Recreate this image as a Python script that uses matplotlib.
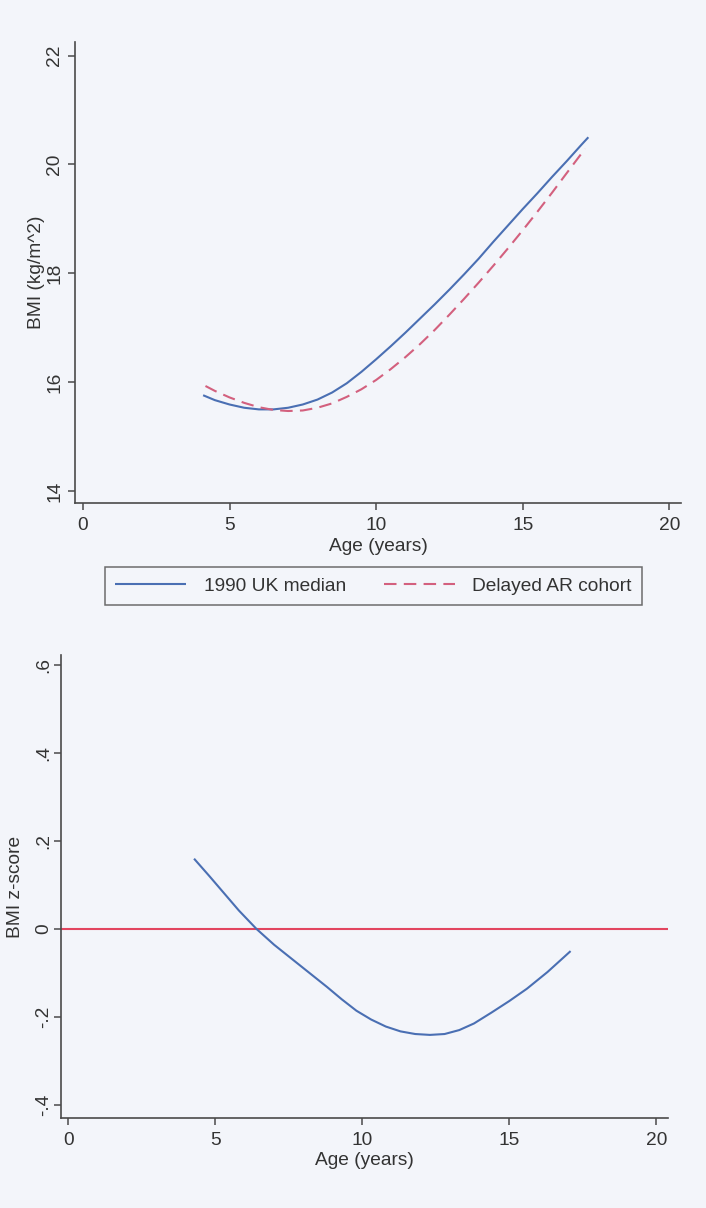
import matplotlib
matplotlib.use("Agg")
import matplotlib.pyplot as plt

plt.rcParams['font.family'] = ['Liberation Sans', 'DejaVu Sans']

# ---- data: top panel (BMI) ----
uk_age = [4.1, 4.5, 5.0, 5.5, 6.0, 6.5, 7.0, 7.5, 8.0, 8.5, 9.0, 9.5, 10.0, 10.5,
          11.0, 11.5, 12.0, 12.5, 13.0, 13.5, 14.0, 14.5, 15.0, 15.5, 16.0, 16.5, 17.0, 17.24]
uk_bmi = [15.76, 15.67, 15.59, 15.53, 15.50, 15.50, 15.53, 15.59, 15.68, 15.81, 15.98, 16.19,
          16.42, 16.66, 16.91, 17.17, 17.43, 17.70, 17.98, 18.27, 18.58, 18.88, 19.18, 19.47,
          19.77, 20.06, 20.36, 20.50]
ar_age = [4.18, 4.5, 5.0, 5.5, 6.0, 6.5, 7.0, 7.5, 8.0, 8.5, 9.0, 9.5, 10.0, 10.5,
          11.0, 11.5, 12.0, 12.5, 13.0, 13.5, 14.0, 14.5, 15.0, 15.5, 16.0, 16.5, 17.13]
ar_bmi = [15.93, 15.84, 15.72, 15.62, 15.54, 15.49, 15.47, 15.48, 15.53, 15.61, 15.73, 15.87,
          16.04, 16.24, 16.46, 16.70, 16.96, 17.24, 17.53, 17.83, 18.14, 18.46, 18.79, 19.13,
          19.48, 19.84, 20.29]

# ---- data: bottom panel (z-score) ----
z_age = [4.3, 4.8, 5.3, 5.8, 6.4, 7.0, 7.6, 8.2, 8.8, 9.3, 9.8, 10.3, 10.8, 11.3, 11.8,
         12.3, 12.8, 13.3, 13.8, 14.4, 15.0, 15.6, 16.3, 17.06]
z_val = [0.158, 0.120, 0.081, 0.042, 0.000, -0.036, -0.068, -0.100, -0.132, -0.160, -0.186,
         -0.206, -0.222, -0.233, -0.239, -0.241, -0.239, -0.230, -0.215, -0.190, -0.164,
         -0.136, -0.098, -0.052]
z_ref = 0.0

x_ticks = [0, 5, 10, 15, 20]
x_ticklabels = ['0', '5', '10', '15', '20']
bmi_ticks = [14, 16, 18, 20, 22]
bmi_ticklabels = ['14', '16', '18', '20', '22']
z_ticks = [-0.4, -0.2, 0, 0.2, 0.4, 0.6]
z_ticklabels = ['-.4', '-.2', '0', '.2', '.4', '.6']

BG = '#f3f5fa'
AX = '#4a4a4a'
BLUE = '#4a6fb3'
PINK = '#d3607e'
RED = '#e2455f'
FS = 13.8

fig = plt.figure(figsize=(7.06, 12.08), dpi=100, facecolor=BG)
W, H = 706.0, 1208.0

def style(ax, ypad):
    ax.set_facecolor(BG)
    for s in ['top', 'right']:
        ax.spines[s].set_visible(False)
    for s in ['left', 'bottom']:
        ax.spines[s].set_color(AX)
        ax.spines[s].set_linewidth(1.2)
    ax.tick_params(axis='both', direction='out', length=5, width=1.1, color=AX,
                   labelsize=FS, labelcolor='#333333', pad=5)
    ax.tick_params(axis='y', labelrotation=90, pad=ypad)
    for lab in ax.get_yticklabels():
        lab.set_va('center')

# top axes
ax1 = fig.add_axes([75 / W, 1 - 503 / H, 606 / W, 461 / H])
ax1.plot(uk_age, uk_bmi, color=BLUE, lw=1.5, solid_capstyle='butt', label='1990 UK median')
ax1.plot(ar_age, ar_bmi, color=PINK, lw=1.5, dashes=(6, 3.5), label='Delayed AR cohort')
ax1.set_xlim(-0.27, 20.4)
ax1.set_ylim(13.78, 22.25)
ax1.set_xticks(x_ticks)
ax1.set_xticklabels(x_ticklabels)
ax1.set_yticks(bmi_ticks)
ax1.set_yticklabels(bmi_ticklabels)
style(ax1, 3.5)
ax1.set_xlabel('Age (years)', fontsize=FS, color='#333333')
ax1.xaxis.set_label_coords(0.5, -0.077)
ax1.set_ylabel('BMI (kg/m^2)', fontsize=FS, color='#333333')
ax1.yaxis.label.set_va('center')
ax1.yaxis.set_label_coords(-0.064, 0.5)

leg = fig.legend(handles=ax1.get_lines(), loc='center',
                 bbox_to_anchor=(373.5 / W, 1 - 586 / H), ncol=2, fontsize=FS,
                 frameon=True, fancybox=False, handlelength=3.7, handletextpad=0.9,
                 columnspacing=2.0, borderpad=0.55, labelcolor='#333333')
leg.get_frame().set_edgecolor(AX)
leg.get_frame().set_linewidth(1.1)
leg.get_frame().set_facecolor(BG)

# bottom axes
ax2 = fig.add_axes([61 / W, 1 - 1118 / H, 607 / W, 463 / H])
ax2.axhline(z_ref, color=RED, lw=1.5)
ax2.plot(z_age, z_val, color=BLUE, lw=1.5)
ax2.set_xlim(-0.25, 20.4)
ax2.set_ylim(-0.43, 0.623)
ax2.set_xticks(x_ticks)
ax2.set_xticklabels(x_ticklabels)
ax2.set_yticks(z_ticks)
ax2.set_yticklabels(z_ticklabels)
style(ax2, 1.5)
ax2.set_xlabel('Age (years)', fontsize=FS, color='#333333')
ax2.xaxis.set_label_coords(0.5, -0.073)
ax2.set_ylabel('BMI z-score', fontsize=FS, color='#333333')
ax2.yaxis.label.set_va('center')
ax2.yaxis.set_label_coords(-0.075, 0.5)

fig.savefig('out.png', dpi=100, facecolor=BG)
